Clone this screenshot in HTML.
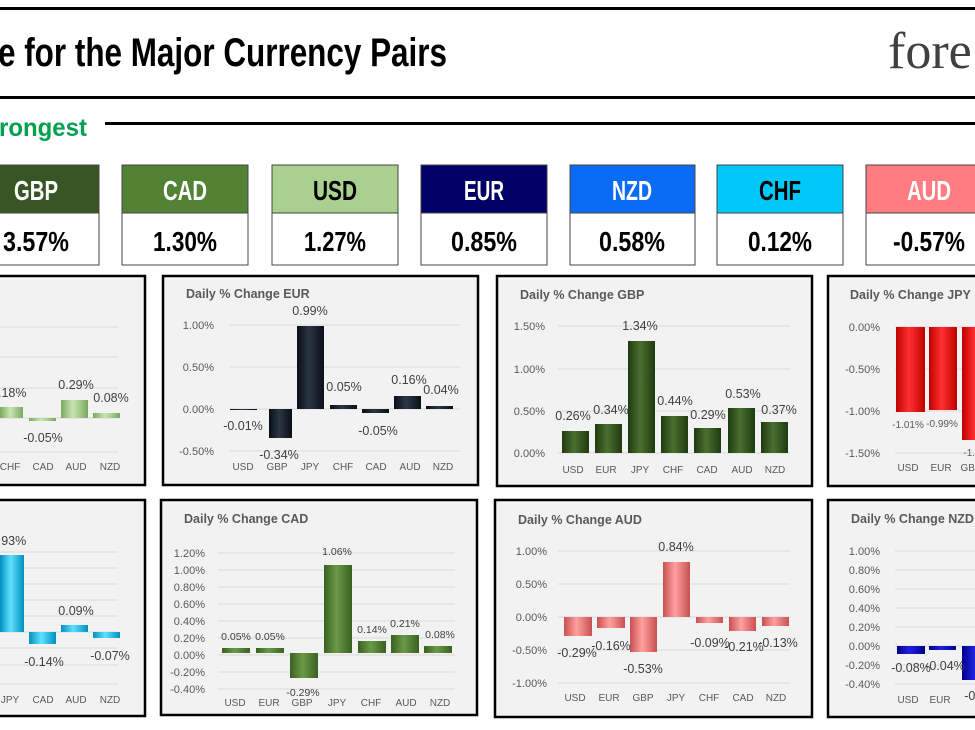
<!DOCTYPE html>
<html><head><meta charset="utf-8"><style>
html,body{margin:0;padding:0;background:#fff;width:975px;height:730px;overflow:hidden}
svg{display:block}
.t{font-family:"Liberation Sans",sans-serif;font-weight:bold;font-size:12.5px;fill:#595959}
.a{font-family:"Liberation Sans",sans-serif;font-size:11px;fill:#595959}
.c{font-family:"Liberation Sans",sans-serif;font-size:10px;fill:#595959}
.d{font-family:"Liberation Sans",sans-serif;font-size:12.5px;fill:#404040}
.ds{font-family:"Liberation Sans",sans-serif;font-size:10.5px;fill:#404040}
.h{font-family:"Liberation Sans Narrow","Liberation Sans",sans-serif;font-weight:bold}
.g{stroke:#d9d9d9;stroke-width:1}
</style></head><body>
<svg width="975" height="730" viewBox="0 0 975 730" xmlns="http://www.w3.org/2000/svg">
<defs>
<linearGradient id="gE" x1="0" x2="1"><stop offset="0" stop-color="#0a0f18"/><stop offset=".45" stop-color="#2c3644"/><stop offset="1" stop-color="#0a0f18"/></linearGradient>
<linearGradient id="gG" x1="0" x2="1"><stop offset="0" stop-color="#1f3a10"/><stop offset=".45" stop-color="#4a7030"/><stop offset="1" stop-color="#1f3a10"/></linearGradient>
<linearGradient id="gC" x1="0" x2="1"><stop offset="0" stop-color="#3a6020"/><stop offset=".45" stop-color="#6a9a48"/><stop offset="1" stop-color="#3a6020"/></linearGradient>
<linearGradient id="gU" x1="0" x2="1"><stop offset="0" stop-color="#7aa860"/><stop offset=".45" stop-color="#c8e6b0"/><stop offset="1" stop-color="#7aa860"/></linearGradient>
<linearGradient id="gJ" x1="0" x2="1"><stop offset="0" stop-color="#c00000"/><stop offset=".45" stop-color="#ff3030"/><stop offset="1" stop-color="#c00000"/></linearGradient>
<linearGradient id="gH" x1="0" x2="1"><stop offset="0" stop-color="#0090c0"/><stop offset=".45" stop-color="#60e0ff"/><stop offset="1" stop-color="#0090c0"/></linearGradient>
<linearGradient id="gA" x1="0" x2="1"><stop offset="0" stop-color="#c85050"/><stop offset=".45" stop-color="#ffa0a0"/><stop offset="1" stop-color="#c85050"/></linearGradient>
<linearGradient id="gN" x1="0" x2="1"><stop offset="0" stop-color="#00008a"/><stop offset=".45" stop-color="#2020e0"/><stop offset="1" stop-color="#00008a"/></linearGradient>
</defs>
<!-- header -->
<rect x="0" y="7" width="975" height="3" fill="#000"/>
<rect x="0" y="96" width="975" height="3" fill="#000"/>
<text x="-2" y="66" class="h" font-size="40" fill="#000" textLength="449" lengthAdjust="spacingAndGlyphs">e for the Major Currency Pairs</text>
<text x="888" y="68" font-family="Liberation Serif,serif" font-size="52" fill="#404040">fore</text>
<text x="-1" y="136" class="h" font-size="25" fill="#00a050" textLength="88" lengthAdjust="spacingAndGlyphs">rongest</text>
<rect x="105" y="122" width="870" height="3" fill="#000"/>
<!-- currency boxes -->
<g stroke="#444" stroke-width="1">
<rect x="-30" y="165" width="129" height="100" fill="#fff"/><rect x="-30" y="165" width="129" height="48" fill="#375623"/>
<rect x="122" y="165" width="126" height="100" fill="#fff"/><rect x="122" y="165" width="126" height="48" fill="#548235"/>
<rect x="272" y="165" width="126" height="100" fill="#fff"/><rect x="272" y="165" width="126" height="48" fill="#a9d08e"/>
<rect x="421" y="165" width="126" height="100" fill="#fff"/><rect x="421" y="165" width="126" height="48" fill="#000066"/>
<rect x="570" y="165" width="125" height="100" fill="#fff"/><rect x="570" y="165" width="125" height="48" fill="#0a6cf5"/>
<rect x="717" y="165" width="126" height="100" fill="#fff"/><rect x="717" y="165" width="126" height="48" fill="#00c8f8"/>
<rect x="866" y="165" width="130" height="100" fill="#fff"/><rect x="866" y="165" width="130" height="48" fill="#ff7c80"/>
</g>
<g class="h" font-size="28" text-anchor="middle" lengthAdjust="spacingAndGlyphs">
<text x="36" y="200" fill="#fff" textLength="44" lengthAdjust="spacingAndGlyphs">GBP</text><text x="185" y="200" fill="#fff" textLength="44" lengthAdjust="spacingAndGlyphs">CAD</text><text x="335" y="200" fill="#000" textLength="44" lengthAdjust="spacingAndGlyphs">USD</text>
<text x="484" y="200" fill="#fff" textLength="40" lengthAdjust="spacingAndGlyphs">EUR</text><text x="632" y="200" fill="#fff" textLength="40" lengthAdjust="spacingAndGlyphs">NZD</text><text x="780" y="200" fill="#000" textLength="42" lengthAdjust="spacingAndGlyphs">CHF</text><text x="929" y="200" fill="#fff" textLength="44" lengthAdjust="spacingAndGlyphs">AUD</text>
<g fill="#000"><text x="36" y="251" textLength="66" lengthAdjust="spacingAndGlyphs">3.57%</text><text x="185" y="251" textLength="64" lengthAdjust="spacingAndGlyphs">1.30%</text><text x="335" y="251" textLength="62" lengthAdjust="spacingAndGlyphs">1.27%</text><text x="484" y="251" textLength="66" lengthAdjust="spacingAndGlyphs">0.85%</text><text x="632" y="251" textLength="66" lengthAdjust="spacingAndGlyphs">0.58%</text><text x="780" y="251" textLength="64" lengthAdjust="spacingAndGlyphs">0.12%</text><text x="929" y="251" textLength="72" lengthAdjust="spacingAndGlyphs">-0.57%</text></g>
</g>
<!-- panels -->
<g fill="#f2f2f2" stroke="#000" stroke-width="2.5">
<rect x="-10" y="276" width="155" height="209"/>
<rect x="163" y="276" width="315" height="209"/>
<rect x="497" y="276" width="315" height="210"/>
<rect x="828" y="276" width="160" height="210"/>
<rect x="-10" y="500" width="155" height="216"/>
<rect x="161" y="500" width="316" height="215"/>
<rect x="495" y="500" width="317" height="217"/>
<rect x="828" y="500" width="160" height="217"/>
</g>
<!-- USD (col1 row1) -->
<g class="g"><line x1="0" x2="118" y1="327" y2="327"/><line x1="0" x2="118" y1="357" y2="357"/><line x1="0" x2="118" y1="388" y2="388"/><line x1="0" x2="118" y1="418" y2="418"/><line x1="0" x2="118" y1="452" y2="452"/></g>
<rect x="0" y="407" width="23" height="11" fill="url(#gU)"/><rect x="29" y="418" width="27" height="3" fill="url(#gU)"/><rect x="61" y="400" width="27" height="18" fill="url(#gU)"/><rect x="93" y="413" width="27" height="5" fill="url(#gU)"/>
<text class="d" x="-2" y="397">.18%</text><text class="d" x="76" y="389" text-anchor="middle">0.29%</text><text class="d" x="111" y="402" text-anchor="middle">0.08%</text><text class="d" x="43" y="442" text-anchor="middle">-0.05%</text>
<g class="c" text-anchor="middle"><text x="10" y="470">CHF</text><text x="43" y="470">CAD</text><text x="76" y="470">AUD</text><text x="110" y="470">NZD</text></g>
<!-- EUR -->
<text class="t" x="186" y="298">Daily % Change EUR</text>
<g class="g"><line x1="229" x2="460" y1="325" y2="325"/><line x1="229" x2="460" y1="367" y2="367"/><line x1="229" x2="460" y1="409" y2="409"/><line x1="229" x2="460" y1="451" y2="451"/></g>
<g class="a" text-anchor="end"><text x="214" y="329">1.00%</text><text x="214" y="371">0.50%</text><text x="214" y="413">0.00%</text><text x="214" y="455">-0.50%</text></g>
<g fill="url(#gE)"><rect x="230" y="409" width="27" height="1"/><rect x="269" y="409" width="23" height="29"/><rect x="297" y="326" width="27" height="83"/><rect x="330" y="405" width="27" height="4"/><rect x="362" y="409" width="27" height="4"/><rect x="394" y="396" width="27" height="13"/><rect x="426" y="406" width="27" height="3"/></g>
<g class="d" text-anchor="middle"><text x="310" y="315">0.99%</text><text x="344" y="391">0.05%</text><text x="409" y="384">0.16%</text><text x="441" y="394">0.04%</text><text x="243" y="430">-0.01%</text><text x="378" y="435">-0.05%</text><text x="279" y="459">-0.34%</text></g>
<g class="c" text-anchor="middle"><text x="243" y="470">USD</text><text x="277" y="470">GBP</text><text x="310" y="470">JPY</text><text x="343" y="470">CHF</text><text x="376" y="470">CAD</text><text x="410" y="470">AUD</text><text x="443" y="470">NZD</text></g>
<!-- GBP -->
<text class="t" x="520" y="299">Daily % Change GBP</text>
<g class="g"><line x1="558" x2="790" y1="326" y2="326"/><line x1="558" x2="790" y1="369" y2="369"/><line x1="558" x2="790" y1="411" y2="411"/><line x1="558" x2="790" y1="453" y2="453"/></g>
<g class="a" text-anchor="end"><text x="545" y="330">1.50%</text><text x="545" y="373">1.00%</text><text x="545" y="415">0.50%</text><text x="545" y="457">0.00%</text></g>
<g fill="url(#gG)"><rect x="562" y="431" width="27" height="22"/><rect x="595" y="424" width="27" height="29"/><rect x="628" y="341" width="27" height="112"/><rect x="661" y="416" width="27" height="37"/><rect x="694" y="428" width="27" height="25"/><rect x="728" y="408" width="27" height="45"/><rect x="761" y="422" width="27" height="31"/></g>
<g class="d" text-anchor="middle"><text x="573" y="420">0.26%</text><text x="611" y="414">0.34%</text><text x="640" y="330">1.34%</text><text x="675" y="405">0.44%</text><text x="708" y="419">0.29%</text><text x="743" y="398">0.53%</text><text x="779" y="414">0.37%</text></g>
<g class="c" text-anchor="middle"><text x="573" y="473">USD</text><text x="606" y="473">EUR</text><text x="640" y="473">JPY</text><text x="673" y="473">CHF</text><text x="707" y="473">CAD</text><text x="742" y="473">AUD</text><text x="775" y="473">NZD</text></g>
<!-- JPY -->
<text class="t" x="850" y="299">Daily % Change JPY</text>
<g class="g"><line x1="895" x2="975" y1="327" y2="327"/><line x1="895" x2="975" y1="369" y2="369"/><line x1="895" x2="975" y1="411" y2="411"/><line x1="895" x2="975" y1="453" y2="453"/></g>
<g class="a" text-anchor="end"><text x="880" y="331">0.00%</text><text x="880" y="373">-0.50%</text><text x="880" y="415">-1.00%</text><text x="880" y="457">-1.50%</text></g>
<g fill="url(#gJ)"><rect x="896" y="327" width="29" height="85"/><rect x="929" y="327" width="28" height="83"/><rect x="962" y="327" width="29" height="113"/></g>
<g class="c" text-anchor="middle" fill="#404040"><text x="908" y="428">-1.01%</text><text x="942" y="427">-0.99%</text><text x="972" y="456">-1.3</text></g>
<g class="c" text-anchor="middle"><text x="908" y="471">USD</text><text x="941" y="471">EUR</text><text x="971" y="471">GBP</text></g>
<!-- CHF (col1 row2) -->
<g class="g"><line x1="0" x2="118" y1="552" y2="552"/><line x1="0" x2="118" y1="568" y2="568"/><line x1="0" x2="118" y1="584" y2="584"/><line x1="0" x2="118" y1="600" y2="600"/><line x1="0" x2="118" y1="616" y2="616"/><line x1="0" x2="118" y1="632" y2="632"/><line x1="0" x2="118" y1="648" y2="648"/><line x1="0" x2="118" y1="665" y2="665"/><line x1="0" x2="118" y1="684" y2="684"/></g>
<g fill="url(#gH)"><rect x="0" y="555" width="24" height="77"/><rect x="29" y="632" width="27" height="12"/><rect x="61" y="625" width="27" height="7"/><rect x="93" y="632" width="27" height="6"/></g>
<g class="d" text-anchor="middle"><text x="12" y="545">.93%</text><text x="76" y="615">0.09%</text><text x="44" y="666">-0.14%</text><text x="110" y="660">-0.07%</text></g>
<g class="c" text-anchor="middle"><text x="10" y="703">JPY</text><text x="43" y="703">CAD</text><text x="76" y="703">AUD</text><text x="110" y="703">NZD</text></g>
<!-- CAD -->
<text class="t" x="184" y="523">Daily % Change CAD</text>
<g class="g"><line x1="218" x2="455" y1="553" y2="553"/><line x1="218" x2="455" y1="570" y2="570"/><line x1="218" x2="455" y1="587" y2="587"/><line x1="218" x2="455" y1="604" y2="604"/><line x1="218" x2="455" y1="621" y2="621"/><line x1="218" x2="455" y1="638" y2="638"/><line x1="218" x2="455" y1="655" y2="655"/><line x1="218" x2="455" y1="672" y2="672"/><line x1="218" x2="455" y1="689" y2="689"/></g>
<g class="a" text-anchor="end"><text x="205" y="557">1.20%</text><text x="205" y="574">1.00%</text><text x="205" y="591">0.80%</text><text x="205" y="608">0.60%</text><text x="205" y="625">0.40%</text><text x="205" y="642">0.20%</text><text x="205" y="659">0.00%</text><text x="205" y="676">-0.20%</text><text x="205" y="693">-0.40%</text></g>
<g fill="url(#gC)"><rect x="222" y="648" width="28" height="5"/><rect x="256" y="648" width="28" height="5"/><rect x="290" y="653" width="28" height="25"/><rect x="324" y="565" width="28" height="88"/><rect x="358" y="641" width="28" height="12"/><rect x="391" y="635" width="28" height="18"/><rect x="424" y="646" width="28" height="7"/></g>
<g class="ds" text-anchor="middle"><text x="236" y="640">0.05%</text><text x="270" y="640">0.05%</text><text x="303" y="696">-0.29%</text><text x="337" y="555">1.06%</text><text x="372" y="633">0.14%</text><text x="405" y="627">0.21%</text><text x="440" y="638">0.08%</text></g>
<g class="c" text-anchor="middle"><text x="235" y="706">USD</text><text x="269" y="706">EUR</text><text x="302" y="706">GBP</text><text x="337" y="706">JPY</text><text x="371" y="706">CHF</text><text x="406" y="706">AUD</text><text x="440" y="706">NZD</text></g>
<!-- AUD -->
<text class="t" x="518" y="524">Daily % Change AUD</text>
<g class="g"><line x1="558" x2="790" y1="551" y2="551"/><line x1="558" x2="790" y1="584" y2="584"/><line x1="558" x2="790" y1="617" y2="617"/><line x1="558" x2="790" y1="650" y2="650"/><line x1="558" x2="790" y1="683" y2="683"/></g>
<g class="a" text-anchor="end"><text x="547" y="555">1.00%</text><text x="547" y="588">0.50%</text><text x="547" y="621">0.00%</text><text x="547" y="654">-0.50%</text><text x="547" y="687">-1.00%</text></g>
<g fill="url(#gA)"><rect x="564" y="617" width="28" height="19"/><rect x="597" y="617" width="28" height="11"/><rect x="630" y="617" width="27" height="35"/><rect x="663" y="562" width="27" height="55"/><rect x="696" y="617" width="27" height="6"/><rect x="729" y="617" width="27" height="14"/><rect x="762" y="617" width="27" height="9"/></g>
<g class="d" text-anchor="middle"><text x="577" y="657">-0.29%</text><text x="611" y="650">-0.16%</text><text x="643" y="673">-0.53%</text><text x="676" y="551">0.84%</text><text x="710" y="647">-0.09%</text><text x="744" y="651">-0.21%</text><text x="778" y="647">-0.13%</text></g>
<g class="c" text-anchor="middle"><text x="575" y="701">USD</text><text x="609" y="701">EUR</text><text x="643" y="701">GBP</text><text x="676" y="701">JPY</text><text x="709" y="701">CHF</text><text x="743" y="701">CAD</text><text x="776" y="701">NZD</text></g>
<!-- NZD -->
<text class="t" x="851" y="523">Daily % Change NZD</text>
<g class="g"><line x1="895" x2="975" y1="551" y2="551"/><line x1="895" x2="975" y1="570" y2="570"/><line x1="895" x2="975" y1="589" y2="589"/><line x1="895" x2="975" y1="608" y2="608"/><line x1="895" x2="975" y1="627" y2="627"/><line x1="895" x2="975" y1="646" y2="646"/><line x1="895" x2="975" y1="665" y2="665"/><line x1="895" x2="975" y1="684" y2="684"/></g>
<g class="a" text-anchor="end"><text x="880" y="555">1.00%</text><text x="880" y="574">0.80%</text><text x="880" y="593">0.60%</text><text x="880" y="612">0.40%</text><text x="880" y="631">0.20%</text><text x="880" y="650">0.00%</text><text x="880" y="669">-0.20%</text><text x="880" y="688">-0.40%</text></g>
<g fill="url(#gN)"><rect x="897" y="646" width="28" height="8"/><rect x="929" y="646" width="27" height="4"/><rect x="962" y="646" width="27" height="34"/></g>
<g class="d" text-anchor="middle" font-size="12"><text x="911" y="672">-0.08%</text><text x="945" y="670">-0.04%</text><text x="975" y="700">-0.3</text></g>
<g class="c" text-anchor="middle"><text x="908" y="703">USD</text><text x="940" y="703">EUR</text></g>
</svg>
</body></html>
